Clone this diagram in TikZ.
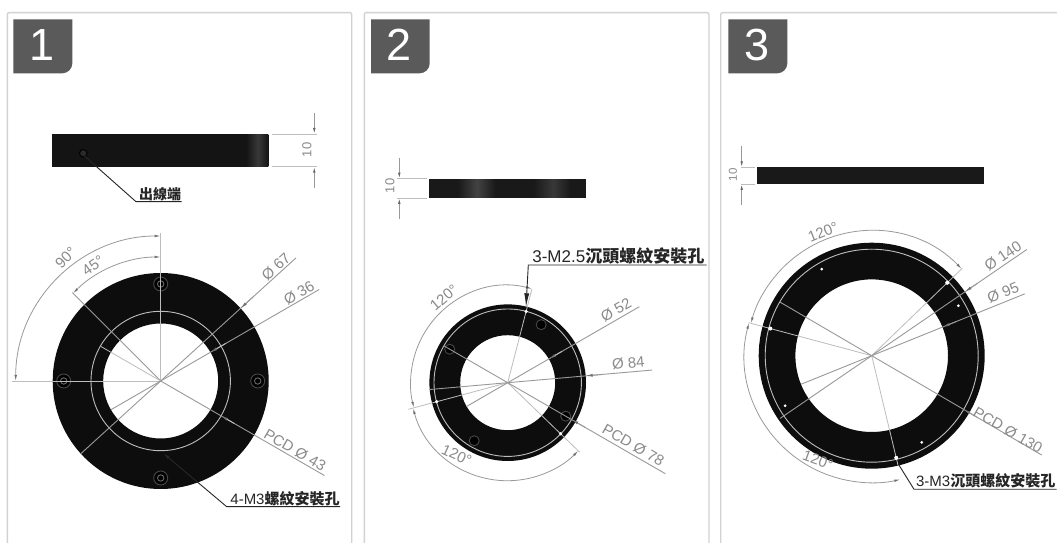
\documentclass[tikz,border=0pt]{standalone}
\usepackage{fontspec}
\setmainfont{Liberation Sans}
\newfontfamily\cjk{Noto Sans CJK TC}
\usetikzlibrary{arrows.meta}
\definecolor{framec}{HTML}{D2D2D2}
\definecolor{tagc}{HTML}{5A5A5A}
\definecolor{dimc}{HTML}{999999}
\definecolor{extc}{HTML}{BDBDBD}
\definecolor{txtc}{HTML}{8A8A8A}
\definecolor{ringc}{HTML}{0D0D0D}
\tikzset{
  x=1pt,y=1pt,
  frameline/.style={draw=framec,line width=1.4pt,rounded corners=2pt},
  tagfill/.style={fill=tagc},
  tagnum/.style={text=white,font=\fontsize{45}{45}\selectfont,inner sep=0pt},
  dimline/.style={draw=dimc,line width=0.9pt},
  extline/.style={draw=extc,line width=0.8pt},
  pcdline/.style={draw=extc,line width=0.9pt},
  dimarrow/.style={draw=dimc,line width=0.8pt,{Latex[length=6pt,width=2.6pt,color=dimc!75!black]}-{Latex[length=6pt,width=2.6pt,color=dimc!75!black]}},
  inarrow/.style={draw=dimc,line width=0.9pt,-{Latex[length=7pt,width=3pt,color=dimc!75!black]}},
  dimtxt/.style={text=txtc,font=\fontsize{15}{15}\selectfont,inner sep=0pt},
  sidetxt/.style={text=txtc,font=\fontsize{13}{13}\selectfont,inner sep=0pt,rotate=90},
  leader/.style={draw=black!85,line width=0.9pt},
  callout/.style={text=black!85,font=\fontsize{15}{15}\selectfont,inner sep=0pt},
  ringblack/.style={fill=ringc},
  whitehole/.style={fill=white},
  cbore/.style={draw=black!72,line width=0.9pt,fill=black},
  sheen/.style={shading=axis,shading angle=90},
}
\newcommand{\tagbox}[4]{% x1, x2, digit, name
  \fill[tagfill] (#1,523.7) -- (#2,523.7) -- (#2,479.7) arc[start angle=0,end angle=-90,radius=10] -- (#1,469.7) -- cycle;
  \node[tagnum] (#4) at ({(#1+#2)/2-1},498) {#3};
}
\newcommand{\vdim}[5]{% x, top, ybot, ext from x, ext to x
  \draw[extline] (#4,543-#2) -- (#5,543-#2);
  \draw[extline] (#4,543-#3) -- (#5,543-#3);
  \draw[dimline,-{Latex[length=6pt,width=2.6pt,color=black!60]}] (#1,543-#2+21) -- (#1,543-#2);
  \draw[dimline,-{Latex[length=6pt,width=2.6pt,color=black!60]}] (#1,543-#3-21) -- (#1,543-#3);
}
\begin{document}
\begin{tikzpicture}
\useasboundingbox (0,0) rectangle (1057,543);
\fill[white] (0,0) rectangle (1057,543);
% frames
\draw[frameline] (7.3,0) -- (7.3,530.4) -- (351.7,530.4) -- (351.7,0);
\draw[frameline] (364.3,0) -- (364.3,530.4) -- (709,530.4) -- (709,0);
\draw[frameline] (720.7,0) -- (720.7,530.4) -- (1057,530.4);
\tagbox{13.3}{72.3}{1}{tagA}
\tagbox{371}{429.7}{2}{tagB}
\tagbox{728.3}{787.3}{3}{tagC}

% ---------- side views
\fill[black!92] (51.7,409) rectangle (268.3,376.3);
\shade[sheen,left color=black!92,right color=black!78] (246,408.5) rectangle (258,376.8);
\shade[sheen,left color=black!78,right color=black!92] (258,408.5) rectangle (268.3,376.8);
\draw[draw=black,line width=1pt,fill=black!84] (83.3,389.7) circle[radius=3.8];
\coordinate (sA) at (84.5,387);
\coordinate (sAk) at (136,341.3);
\coordinate (sAe) at (181.7,341.3);
\node[callout,font=\cjk\bfseries\fontsize{14}{14}\selectfont] (lblA) at (160,349) {出線端};
\draw[leader] (sA) -- (sAk) -- (sAe);
\vdim{314.3}{134}{166.7}{272}{317}
\node[sidetxt] (dimA) at (307,393) {10};

\fill[black!90] (429,364.3) rectangle (586,345);
\shade[sheen,left color=black!90,right color=black!74] (458,363.8) rectangle (477,345.5);
\shade[sheen,left color=black!74,right color=black!90] (477,363.8) rectangle (495,345.5);
\shade[sheen,left color=black!90,right color=black!78] (534,363.8) rectangle (553,345.5);
\shade[sheen,left color=black!78,right color=black!90] (553,363.8) rectangle (570,345.5);
\vdim{399.3}{178.7}{198}{397}{427}
\node[sidetxt] (dimB) at (390,357) {10};

\fill[black!90] (757.3,375.7) rectangle (984.3,359);
\vdim{741.7}{167.3}{184}{741}{755}
\node[sidetxt,font=\fontsize{11.5}{11.5}\selectfont] (dimC) at (733,368) {10};

% ---------- ring 1
\begin{scope}[shift={(160.7,162)}]
  \fill[ringblack,even odd rule] (0,0) circle[radius=108] (0,0) circle[radius=57.5];
  \draw[pcdline] (0,0) circle[radius=69.7];
  \foreach \a in {90,180,0,270}{
    \draw[cbore] (\a:97) circle[radius=7];
    \draw[draw=black!55,line width=0.8pt] (\a:97) circle[radius=3.2];
  }
  \draw[extline] (0,0) -- (90:148);
  \draw[extline] (0,0) -- (180:149);
  \draw[dimline] (0,0) -- (135:125);
  \draw[extline] (0,0) -- (150:69);
  \draw[dimline] (222.3:108) -- (42.3:183);
  \draw[dimline] (210:57.5) -- (30:183);
  \draw[dimline] (0,0) -- (-30:189);
  \draw[inarrow] (42.3:125) -- (42.3:108);
  \draw[inarrow,draw=extc] (30:75) -- (30:57.5);
  \draw[inarrow,draw=extc] (-30:85) -- (-30:69.7);
  \draw[dimarrow] (90:145) arc[start angle=90,end angle=180,radius=145];
  \draw[dimarrow] (90:124) arc[start angle=90,end angle=135,radius=124];
\end{scope}
\node[dimtxt,rotate=45] (t90) at (65.7,285) {90°};
\node[dimtxt,rotate=35] (t45) at (93,277.3) {45°};
\node[dimtxt,rotate=42] (t67) at (276,276.3) {Ø 67};
\node[dimtxt,rotate=30] (t36) at (299,250.3) {Ø 36};
\node[dimtxt,rotate=-30] (tp43) at (295,93) {PCD Ø 43};
\coordinate (lA) at (163.3,89.7);
\coordinate (lAk) at (226.7,36.3);
\coordinate (lAe) at (340,36.3);
\node[callout] (cA) at (285,44) {4-M3{\cjk\bfseries 螺紋安裝孔}};
\draw[leader,-{Latex[length=7pt,width=3pt]}] (lAe) -- (lAk) -- (lA);

% ---------- ring 2
\begin{scope}[shift={(507.7,160.3)}]
  \fill[ringblack,even odd rule] (0,0) circle[radius=78.3] (0,0) circle[radius=47.5];
  \draw[pcdline] (0,0) circle[radius=73.7];
  \foreach \a in {60,150,-30,-120}{
    \draw[cbore] (\a:67) circle[radius=5];
  }
  \draw[extline] (0,0) -- (75.5:97);
  \draw[extline] (0,0) -- (195:103);
  \draw[extline] (0,0) -- (-44:100);
  \draw[dimline] (150:73.7) -- (-30:182);
  \draw[dimline] (210:47.5) -- (30:152);
  \draw[dimline] (185:78) -- (5:145);
  \draw[inarrow,draw=extc] (30:63) -- (30:47.5);
  \draw[inarrow] (5:95) -- (5:78.3);
  \draw[inarrow] (-30:90) -- (-30:73.7);
  \foreach \a in {75.5,195,-44} \fill[whitehole] (\a:73.5) circle[radius=1.8];
  \draw[dimarrow] (75.5:97) arc[start angle=75.5,end angle=195,radius=97];
  \draw[dimarrow] (195:98) arc[start angle=195,end angle=316,radius=98];
\end{scope}
\node[dimtxt,rotate=40] (t2a) at (444,245.3) {120°};
\node[dimtxt,rotate=-25] (t2b) at (456.7,88) {120°};
\node[dimtxt,rotate=30] (t52) at (616,233) {Ø 52};
\node[dimtxt,rotate=5] (t84) at (628.3,179.7) {Ø 84};
\node[dimtxt,rotate=-30] (tp78) at (633.3,98) {PCD Ø 78};
\coordinate (lB) at (526,235.7);
\coordinate (lBk) at (528.3,278);
\coordinate (lBe) at (706.7,278);
\node[callout,font=\fontsize{17}{17}\selectfont] (cB) at (618.3,287) {3-M2.5{\cjk\bfseries 沉頭螺紋安裝孔}};
\draw[leader,-{Latex[length=14pt,width=5pt]}] (lBe) -- (lBk) -- (lB);

% ---------- ring 3
\begin{scope}[shift={(871.7,187.3)}]
  \fill[ringblack,even odd rule] (0,0) circle[radius=113] (0,0) circle[radius=76.3];
  \draw[pcdline] (0,0) circle[radius=106.5];
  \foreach \a in {30,120,210,300} \fill[whitehole] (\a:100) circle[radius=1.5];
  \draw[extline] (0,0) -- (44:126);
  \draw[extline] (0,0) -- (165:127.7);
  \draw[extline] (0,0) -- (-76.5:113);
  \draw[dimline] (214.4:111) -- (34.4:188);
  \draw[dimline] (202:76) -- (22:165);
  \draw[dimline] (149.7:106) -- (-30.3:197);
  \draw[inarrow] (34.4:128) -- (34.4:113);
  \draw[inarrow] (22:92) -- (22:76.3);
  \draw[inarrow] (-30.3:122) -- (-30.3:106.5);
  \foreach \a in {44,165,-76.5} \fill[whitehole] (\a:105) circle[radius=2];
  \draw[dimarrow] (44:125) arc[start angle=44,end angle=165,radius=125];
  \draw[dimarrow] (165:127) arc[start angle=165,end angle=283,radius=127];
\end{scope}
\node[dimtxt,rotate=22] (t3a) at (823,311) {120°};
\node[dimtxt,rotate=-20] (t3b) at (818,83) {120°};
\node[dimtxt,rotate=34] (t140) at (1003,287) {Ø 140};
\node[dimtxt,rotate=22] (t95) at (1003,250.3) {Ø 95};
\node[dimtxt,rotate=-30] (tp130) at (1008,113) {PCD Ø 130};
\coordinate (lC) at (898.3,79);
\coordinate (lCk) at (914,53.7);
\coordinate (lCe) at (1056.7,53.7);
\node[callout] (cC) at (985.7,62) {3-M3{\cjk\bfseries 沉頭螺紋安裝孔}};
\draw[leader] (lCe) -- (lCk) -- (lC);
\end{tikzpicture}
\end{document}
